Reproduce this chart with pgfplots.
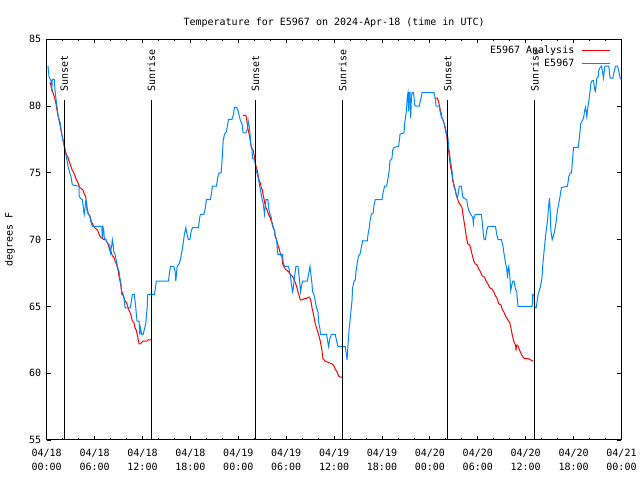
\documentclass[border=0pt]{standalone}
\usepackage{fontspec}
\setmainfont{DejaVu Sans Mono}
\usepackage{pgfplots}
\pgfplotsset{compat=1.18}
\definecolor{obsblue}{RGB}{0,136,255}
\definecolor{anared}{RGB}{255,0,0}

\begin{document}
\begin{tikzpicture}[font=\fontsize{10bp}{14bp}\selectfont]
\path[use as bounding box] (0,0) rectangle (640bp,480bp);
\begin{axis}[
  at={(46.7bp,40bp)}, anchor=south west,
  scale only axis, width=574.8bp, height=400.7bp,
  xmin=0, xmax=72, ymin=55, ymax=85,
  xtick={0,6,...,72}, minor x tick num=2,
  ytick={55,60,...,85},
  xticklabels={{04/18\\00:00},{04/18\\06:00},{04/18\\12:00},{04/18\\18:00},
               {04/19\\00:00},{04/19\\06:00},{04/19\\12:00},{04/19\\18:00},
               {04/20\\00:00},{04/20\\06:00},{04/20\\12:00},{04/20\\18:00},
               {04/21\\00:00}},
  xticklabel style={align=center, yshift=-6bp},
  yticklabel style={xshift=-2bp},
  /pgf/number format/assume math mode=true,
  major tick length=4bp, minor tick length=2bp,
  tick style={black, line width=0.8bp},
  axis line style={line width=1bp},
  title={Temperature for E5967 on 2024-Apr-18 (time in UTC)},
  title style={at={(axis description cs:0.5,1)}, anchor=center, yshift=10.5bp, inner sep=0pt},
  ylabel={degrees F},
  ylabel style={at={(axis description cs:-0.064,0.5)}, anchor=center, inner sep=0pt},
  legend style={draw=none, fill=none, at={(axis description cs:1,1)}, anchor=north east,
                xshift=-8bp, yshift=-2bp, row sep=0bp, cells={anchor=east}},
  legend plot pos=right,
  legend image code/.code={\path (0bp,0bp); \draw[#1] (5bp,0bp) -- (33bp,0bp);},
]

% analysis (three overnight runs)
\addplot[anared, line width=1bp] coordinates {
(0.41,81.8) (0.63,81.3) (0.79,81.0) (0.95,80.7) (1.13,80.3) (1.29,79.7) (1.45,79.2)
(1.63,78.7) (1.79,78.2) (1.96,77.7) (2.13,77.2) (2.29,76.8) (2.46,76.4) (2.63,76.2)
(2.80,75.9) (2.96,75.6) (3.13,75.3) (3.30,75.1) (3.46,74.9) (3.64,74.6) (3.80,74.4)
(3.96,74.2) (4.14,73.9) (4.39,73.8) (4.55,73.7) (4.71,73.4) (4.89,73.2) (4.97,72.8)
(5.05,72.4) (5.22,71.9) (5.39,71.8) (5.47,71.6) (5.64,71.3) (5.81,71.1) (5.97,70.9)
(6.22,70.8) (6.39,70.7) (6.56,70.4) (6.72,70.2) (6.97,70.1) (7.15,70.0) (7.40,70.0)
(7.56,69.8) (7.72,69.6) (7.90,69.2) (8.06,69.1) (8.22,68.8) (8.40,68.7) (8.56,68.4)
(8.73,68.2) (8.90,67.8) (8.98,67.6) (9.07,67.2) (9.23,66.8) (9.32,66.4) (9.40,66.1)
(9.57,65.9) (9.65,65.7) (9.82,65.4) (9.98,65.3) (10.16,65.0) (10.23,64.8) (10.41,64.6)
(10.57,64.3) (10.73,63.9) (10.91,63.8) (11.07,63.4) (11.23,63.2) (11.41,62.7) (11.57,62.2)
(11.74,62.2) (11.91,62.3) (12.07,62.4) (12.24,62.4) (12.58,62.4) (12.74,62.5) (12.91,62.5)
(13.08,62.5)
};
\addlegendentry{E5967 Analysis}
\addplot[anared, line width=1bp, forget plot] coordinates {
(24.61,79.3) (24.95,79.3) (25.03,79.1) (25.11,78.7) (25.20,78.3) (25.36,77.9) (25.45,77.6)
(25.53,77.2) (25.70,76.8) (25.87,76.7) (25.95,76.4) (26.03,76.2) (26.12,75.8) (26.28,75.3)
(26.37,75.2) (26.46,74.9) (26.62,74.4) (26.78,74.2) (26.87,73.9) (27.03,73.7) (27.12,73.3)
(27.21,73.1) (27.28,72.8) (27.46,72.4) (27.62,72.2) (27.78,71.9) (27.96,71.7) (28.12,71.4)
(28.29,71.2) (28.37,70.9) (28.54,70.7) (28.62,70.3) (28.79,70.0) (28.96,69.6) (29.13,69.3)
(29.29,68.9) (29.47,68.7) (29.54,68.2) (29.72,68.0) (29.88,67.8) (30.09,67.7) (30.29,67.6)
(30.50,67.4) (30.72,67.3) (30.92,67.1) (31.13,66.8) (31.35,66.4) (31.47,66.1) (31.63,65.8)
(31.76,65.5) (31.97,65.5) (32.39,65.6) (32.60,65.6) (32.80,65.7) (32.93,65.7) (33.10,65.4)
(33.23,64.9) (33.35,64.6) (33.48,64.2) (33.64,63.7) (33.85,63.3) (34.05,62.9) (34.27,62.4)
(34.48,61.7) (34.60,61.1) (34.89,60.9) (35.31,60.8) (35.73,60.7) (35.93,60.6) (36.15,60.3)
(36.36,60.1) (36.56,59.8) (36.77,59.7) (36.99,59.7)
};
\addplot[anared, line width=1bp, forget plot] coordinates {
(48.60,80.6) (48.93,80.6) (49.10,80.3) (49.27,79.8) (49.44,79.4) (49.52,79.1) (49.69,78.9)
(49.78,78.7) (49.94,78.2) (50.10,77.8) (50.19,77.3) (50.28,76.9) (50.35,76.6) (50.44,76.2)
(50.53,75.7) (50.60,75.4) (50.69,75.2) (50.78,74.8) (50.85,74.4) (51.03,74.1) (51.19,73.7)
(51.28,73.4) (51.44,73.1) (51.61,72.8) (51.82,72.6) (52.03,72.4) (52.16,71.8) (52.32,71.2)
(52.45,70.7) (52.57,70.2) (52.73,69.7) (52.99,69.6) (53.16,69.2) (53.32,68.8) (53.49,68.4)
(53.66,68.2) (53.91,68.1) (54.11,67.8) (54.33,67.6) (54.54,67.3) (54.83,67.2) (55.04,66.9)
(55.24,66.7) (55.49,66.4) (55.79,66.3) (56.00,66.1) (56.21,65.8) (56.42,65.6) (56.62,65.2)
(56.92,65.1) (57.05,64.8) (57.25,64.6) (57.46,64.3) (57.67,64.1) (57.87,63.9) (58.00,63.8)
(58.18,63.3) (58.34,62.8) (58.50,62.4) (58.72,62.1) (58.80,61.7) (58.84,62.1) (59.00,62.1)
(59.25,61.7) (59.47,61.4) (59.68,61.2) (59.88,61.1) (60.26,61.1) (60.60,61.0) (60.94,60.9)
};

% observations
\addplot[obsblue, line width=1bp] coordinates {
(0.16,83.0) (0.29,82.2) (0.54,81.9) (0.63,81.1) (0.70,82.0) (0.95,82.0) (1.04,81.2)
(1.13,80.7) (1.45,79.2) (1.71,78.7) (1.79,78.2) (1.96,77.7) (2.13,77.2) (2.29,76.7)
(2.46,76.2) (2.71,75.4) (2.88,75.0) (3.05,74.7) (3.21,74.1) (4.05,74.0) (4.06,73.3)
(4.21,73.1) (4.46,73.0) (4.55,72.6) (4.64,72.1) (4.71,71.9) (4.89,72.9) (4.97,72.9)
(5.05,72.2) (5.22,71.9) (5.39,71.8) (5.55,71.3) (5.72,71.0) (6.90,71.0) (6.97,70.1)
(7.06,70.9) (7.15,70.7) (7.22,70.1) (7.40,70.0) (7.65,69.7) (7.90,69.6) (7.97,69.0)
(8.15,69.6) (8.22,70.0) (8.31,69.7) (8.40,69.1) (8.56,68.9) (8.73,68.4) (8.90,67.9)
(9.07,67.6) (9.15,67.2) (9.32,66.6) (9.40,65.9) (9.65,65.8) (9.73,65.4) (9.82,64.9)
(10.48,64.9) (10.66,65.6) (10.73,65.9) (10.98,65.9) (11.16,64.9) (11.23,64.4) (11.32,63.9)
(11.57,63.9) (11.66,62.9) (11.74,63.4) (11.91,62.9) (12.07,62.9) (12.24,63.3) (12.41,63.7)
(12.58,64.9) (12.66,65.9) (13.49,65.9) (13.67,66.6) (13.74,66.9) (15.25,66.9) (15.42,67.7)
(15.50,68.0) (15.92,68.0) (16.09,67.6) (16.17,66.9) (16.25,67.4) (16.34,68.0) (16.59,68.2)
(16.75,68.5) (16.93,69.1) (17.09,69.7) (17.25,70.4) (17.43,70.9) (17.50,70.6) (17.75,70.0)
(17.93,70.0) (18.09,70.6) (18.26,70.9) (19.01,70.9) (19.18,71.7) (19.26,71.9) (19.68,71.9)
(19.85,72.3) (19.94,72.7) (20.01,73.0) (20.51,73.0) (20.69,73.7) (20.76,74.0) (21.26,74.0)
(21.44,74.7) (21.60,75.0) (21.85,75.0) (22.02,76.4) (22.10,77.4) (22.27,77.9) (22.52,78.1)
(22.69,78.7) (22.77,79.0) (23.20,79.0) (23.36,79.3) (23.52,79.9) (23.77,79.9) (23.95,79.7)
(24.11,79.3) (24.27,78.9) (24.45,78.7) (24.61,78.0) (24.95,78.0) (25.11,78.2) (25.24,78.9)
(25.36,78.5) (25.45,78.1) (25.53,77.4) (25.62,76.9) (25.70,76.9) (25.78,76.1) (26.03,76.0)
(26.12,75.7) (26.20,75.2) (26.28,75.1) (26.46,74.7) (26.62,74.2) (26.78,73.7) (26.96,73.1)
(27.12,72.7) (27.28,71.9) (27.46,73.0) (27.71,73.0) (27.79,72.4) (27.96,71.9) (28.12,71.7)
(28.21,71.2) (28.37,70.9) (28.54,70.7) (28.62,70.2) (28.79,70.0) (28.88,69.4) (28.96,68.9)
(29.54,68.9) (29.63,68.3) (29.72,68.1) (29.88,68.0) (30.29,68.0) (30.38,67.7) (30.54,67.3)
(30.63,66.8) (30.79,66.1) (30.88,66.3) (31.04,67.2) (31.22,68.0) (31.47,68.0) (31.63,67.2)
(31.80,66.1) (31.88,66.4) (32.05,66.9) (32.64,66.9) (32.80,67.4) (32.98,68.0) (33.05,67.6)
(33.23,66.7) (33.30,66.1) (33.48,65.9) (33.64,65.4) (33.80,64.9) (33.98,64.6) (34.05,63.9)
(34.23,63.3) (34.30,62.9) (35.06,62.9) (35.14,62.6) (35.31,62.0) (35.48,62.6) (35.65,62.9)
(36.15,62.9) (36.32,62.4) (36.49,62.0) (37.40,62.0) (37.56,61.3) (37.62,61.0) (37.81,62.7)
(37.90,63.4) (38.07,64.4) (38.24,65.4) (38.32,66.4) (38.50,66.9) (38.66,67.0) (38.74,67.6)
(38.91,68.3) (39.07,68.8) (39.24,68.9) (39.41,69.4) (39.57,69.9) (40.16,69.9) (40.25,70.4)
(40.41,70.9) (40.50,71.4) (40.66,71.9) (40.91,72.0) (41.00,72.6) (41.16,73.0) (42.00,73.0)
(42.16,73.6) (42.33,74.0) (42.58,74.0) (42.67,74.3) (42.83,74.9) (42.92,75.3) (43.00,75.9)
(43.26,76.1) (43.33,76.7) (43.51,76.9) (44.08,77.0) (44.17,77.4) (44.26,77.9) (44.76,78.0)
(44.84,78.7) (45.01,79.4) (45.09,79.9) (45.17,80.7) (45.26,81.0) (45.34,79.6) (45.43,81.0)
(45.51,81.0) (45.59,79.1) (45.68,80.5) (45.76,81.0) (45.93,81.0) (46.01,80.7) (46.09,80.1)
(46.18,80.0) (46.68,80.0) (46.77,80.3) (46.93,80.7) (47.02,81.0) (48.52,81.0) (48.69,80.5)
(48.77,80.0) (49.19,80.0) (49.27,79.6) (49.44,79.2) (49.60,79.0) (49.78,78.7) (49.94,78.4)
(50.10,77.9) (50.27,77.6) (50.35,76.9) (50.44,76.6) (50.53,76.1) (50.69,75.5) (50.78,75.1)
(50.85,74.7) (51.03,73.9) (51.19,73.7) (51.28,73.4) (51.44,73.1) (51.53,73.4) (51.69,74.0)
(51.94,74.0) (52.03,73.6) (52.11,73.2) (52.28,73.1) (52.61,73.0) (52.70,72.6) (52.86,72.2)
(53.03,72.0) (53.20,71.8) (53.36,71.7) (53.45,71.2) (53.54,71.7) (53.70,71.9) (54.45,71.9)
(54.54,71.4) (54.70,70.4) (54.79,70.0) (54.95,70.0) (55.12,70.7) (55.29,71.0) (56.21,71.0)
(56.37,70.4) (56.55,70.0) (56.96,70.0) (57.13,69.6) (57.30,68.9) (57.46,68.3) (57.63,67.8)
(57.72,67.1) (57.80,67.8) (57.88,68.0) (57.96,67.6) (58.05,66.9) (58.13,66.2) (58.22,66.5)
(58.38,66.9) (58.55,66.9) (58.71,66.3) (58.88,66.1) (58.97,65.4) (59.05,65.0) (60.81,65.0)
(60.88,65.9) (61.06,65.9) (61.14,64.9) (61.31,64.9) (61.56,65.9) (61.81,66.4) (61.98,66.9)
(62.06,67.3) (62.14,68.1) (62.31,69.2) (62.48,70.2) (62.57,70.7) (62.73,71.4) (62.90,72.7)
(62.98,73.1) (63.07,72.2) (63.15,70.7) (63.32,70.0) (63.49,70.3) (63.65,70.7) (63.82,71.4)
(63.98,72.2) (64.14,72.7) (64.32,73.3) (64.48,73.9) (65.23,74.0) (65.40,74.7) (65.57,75.0)
(65.74,75.0) (65.83,75.7) (65.90,76.2) (65.99,76.9) (66.58,76.9) (66.74,77.7) (66.90,78.7)
(67.08,78.9) (67.24,79.1) (67.40,79.7) (67.49,79.9) (67.66,79.2) (67.74,79.7) (67.91,80.4)
(68.08,81.2) (68.16,81.7) (68.33,81.9) (68.49,81.9) (68.66,81.2) (68.75,81.1) (68.91,82.1)
(69.08,82.2) (69.16,82.7) (69.33,82.9) (69.50,83.0) (69.75,82.1) (69.91,83.0) (70.41,83.0)
(70.50,82.4) (70.59,82.1) (70.92,82.1) (71.09,82.6) (71.25,83.0) (71.50,83.0) (71.67,82.6)
(71.84,82.1) (71.88,82.0)
};
\addlegendentry{E5967}

% sunset / sunrise markers
\addplot[black, line width=1bp, forget plot] coordinates {(2.20,55) (2.20,80.45)};
\addplot[black, line width=1bp, forget plot] coordinates {(13.12,55) (13.12,80.45)};
\addplot[black, line width=1bp, forget plot] coordinates {(26.16,55) (26.16,80.45)};
\addplot[black, line width=1bp, forget plot] coordinates {(37.06,55) (37.06,80.45)};
\addplot[black, line width=1bp, forget plot] coordinates {(50.23,55) (50.23,80.45)};
\addplot[black, line width=1bp, forget plot] coordinates {(61.14,55) (61.14,80.45)};
\node[rotate=90, anchor=west, inner sep=0pt] at (axis cs:2.20,81.05) {Sunset};
\node[rotate=90, anchor=west, inner sep=0pt] at (axis cs:13.12,81.05) {Sunrise};
\node[rotate=90, anchor=west, inner sep=0pt] at (axis cs:26.16,81.05) {Sunset};
\node[rotate=90, anchor=west, inner sep=0pt] at (axis cs:37.06,81.05) {Sunrise};
\node[rotate=90, anchor=west, inner sep=0pt] at (axis cs:50.23,81.05) {Sunset};
\node[rotate=90, anchor=west, inner sep=0pt] at (axis cs:61.14,81.05) {Sunrise};
\end{axis}
\end{tikzpicture}
\end{document}
